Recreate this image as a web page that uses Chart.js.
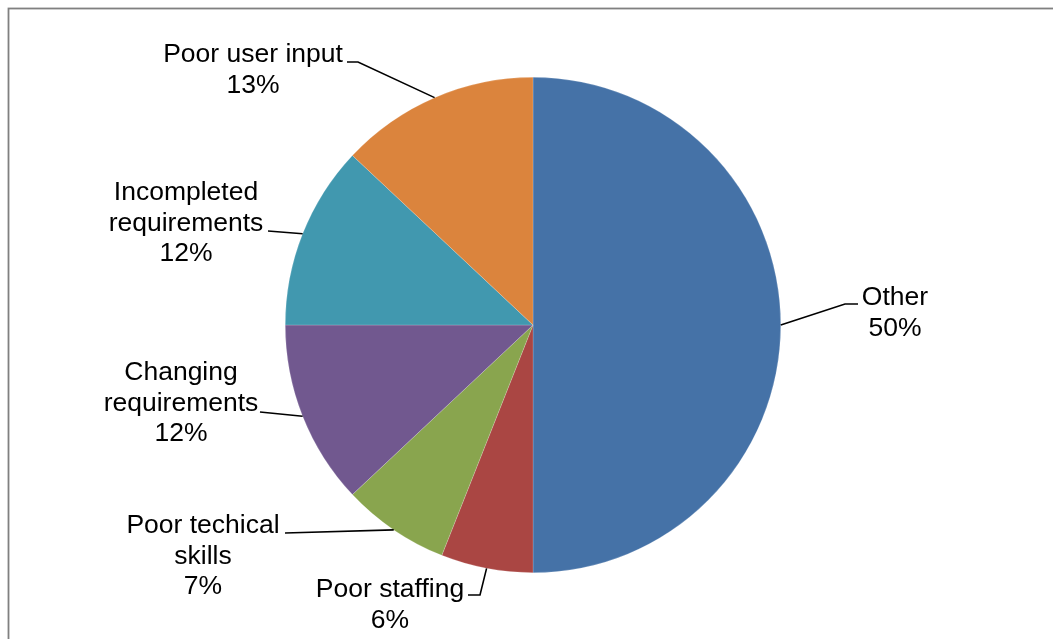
<!DOCTYPE html>
<html>
<head>
<meta charset="utf-8">
<script src="https://cdn.jsdelivr.net/npm/chart.js@4/dist/chart.umd.min.js"></script>
<style>
  html, body { margin: 0; padding: 0; background: #fff; }
  #wrap { position: relative; width: 1053px; height: 639px; overflow: hidden; }
</style>
</head>
<body>
<div id="wrap"><canvas id="pieChart" width="1053" height="639"></canvas></div>
<script>
// causes, clockwise from 12 o'clock
const causes = ['Other', 'Poor staffing', 'Poor techical skills', 'Changing requirements', 'Incompleted requirements', 'Poor user input'];
const shares = [50, 6, 7, 12, 12, 13];
const sliceColors = ['#4572A7', '#AA4643', '#89A54E', '#71588F', '#4198AF', '#DB843D'];

// how each label is broken into lines
const labelLines = [
    ['Other'],
    ['Poor staffing'],
    ['Poor techical', 'skills'],
    ['Changing', 'requirements'],
    ['Incompleted', 'requirements'],
    ['Poor user input']
];

// text centre x, first baseline y, and leader line bends after leaving the slice edge
const labelLayout = [
    { x: 895, y: 305, path: [[845, 304], [858, 304]] },
    { x: 390, y: 597, path: [[480, 595], [468, 595]] },
    { x: 203, y: 533, path: [[285, 533]] },
    { x: 181, y: 380, path: [[260, 412]] },
    { x: 186, y: 200, path: [[268, 231]] },
    { x: 253, y: 62,  path: [[358, 62], [347, 62]] }
];

const LINE_H = 30.5;

const frame = {
    id: 'frame',
    beforeDraw(chart) {
        const c = chart.ctx;
        c.save();
        c.strokeStyle = '#808080';
        c.lineWidth = 1.8;
        c.strokeRect(8.5, 8.5, 1200, 800);
        c.restore();
    }
};

const sliceLabels = {
    id: 'sliceLabels',
    afterDraw(chart) {
        const c = chart.ctx;
        const arcs = chart.getDatasetMeta(0).data;
        c.save();
        arcs.forEach((arc, i) => {
            const mid = (arc.startAngle + arc.endAngle) / 2;
            const sx = arc.x + Math.cos(mid) * arc.outerRadius;
            const sy = arc.y + Math.sin(mid) * arc.outerRadius;
            const lay = labelLayout[i];

            c.beginPath();
            c.moveTo(sx, sy);
            lay.path.forEach(p => c.lineTo(p[0], p[1]));
            c.strokeStyle = '#000';
            c.lineWidth = 1.6;
            c.stroke();

            const lines = labelLines[i].concat([shares[i] + '%']);
            c.fillStyle = '#000';
            c.font = '26.5px "Liberation Sans", Arial, sans-serif';
            c.textAlign = 'center';
            c.textBaseline = 'alphabetic';
            lines.forEach((t, k) => c.fillText(t, lay.x, lay.y + k * LINE_H));
        });
        c.restore();
    }
};

new Chart(document.getElementById('pieChart'), {
    type: 'pie',
    data: {
        labels: causes,
        datasets: [{
            data: shares,
            backgroundColor: sliceColors,
            borderColor: 'rgba(255,255,255,0.35)',
            borderWidth: 0.5,
            hoverOffset: 0,
            offset: 0
        }]
    },
    options: {
        responsive: false,
        animation: false,
        layout: { padding: { top: 77, bottom: 66, left: 285, right: 272 } },
        plugins: {
            legend: { display: false },
            tooltip: { enabled: false }
        }
    },
    plugins: [frame, sliceLabels]
});
</script>
</body>
</html>
